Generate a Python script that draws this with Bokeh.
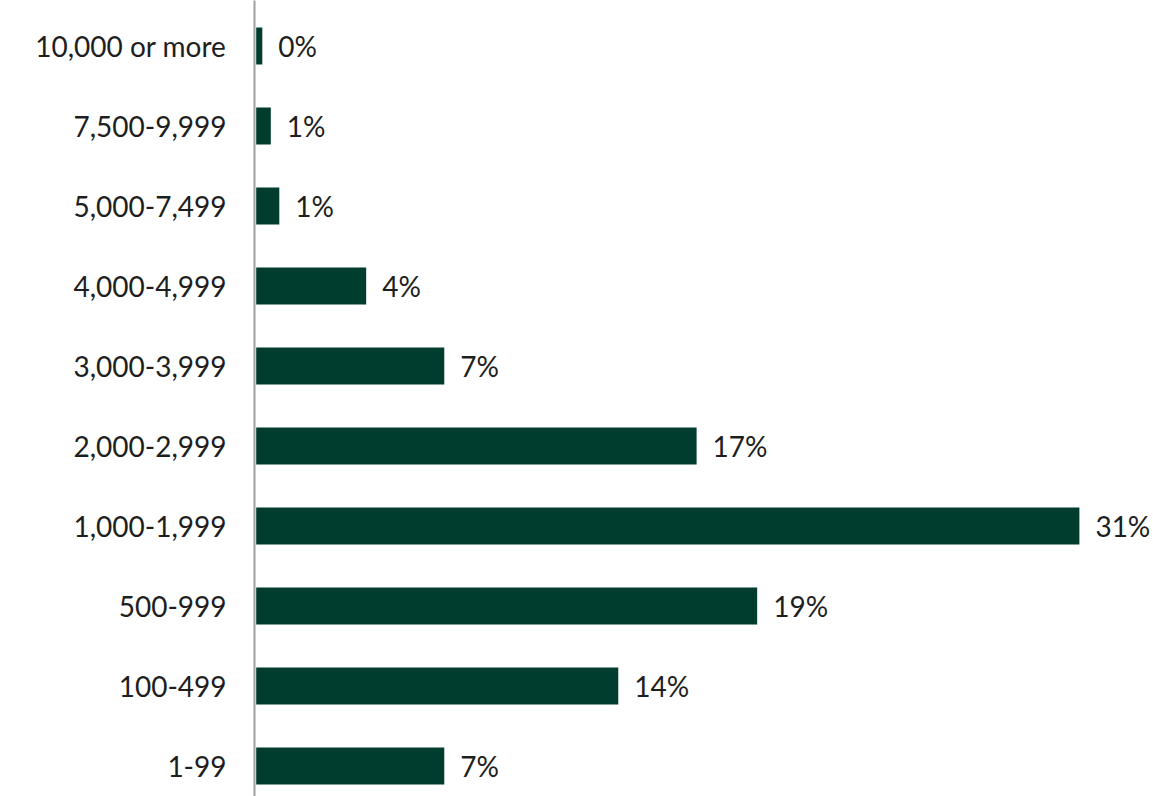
from bokeh.plotting import figure
from bokeh.models import ColumnDataSource, Range1d, FixedTicker
from bokeh.core.properties import value
from bokeh.embed import file_html
from bokeh.resources import INLINE

# Data (top to bottom as in the picture)
categories = ["10,000 or more", "7,500-9,999", "5,000-7,499", "4,000-4,999",
              "3,000-3,999", "2,000-2,999", "1,000-1,999", "500-999", "100-499", "1-99"]
shares = [0.23, 0.55, 0.87, 4.14, 7.08, 16.58, 30.99, 18.86, 13.63, 7.08]
share_labels = ["0%", "1%", "1%", "4%", "7%", "17%", "31%", "19%", "14%", "7%"]

n = len(categories)
ypos = [n - 1 - i for i in range(n)]

FONT = "Lato"
BAR = "#013D2E"
TXT = "#1E1E1E"

src = ColumnDataSource(dict(y=ypos, v=shares, lab=share_labels))

p = figure(width=1153, height=796, output_backend="svg", toolbar_location=None,
           x_range=Range1d(-0.064, 33.78), y_range=Range1d(-0.38125, 9.56875),
           min_border_left=254, min_border_right=0, min_border_top=0, min_border_bottom=0,
           outline_line_color=None)

p.hbar(y="y", right="v", left=0, height=0.4625, source=src, color=BAR, line_color=None)
p.text(x="v", y="y", text="lab", source=src, x_offset=16, text_baseline="middle",
       text_align="left", text_font=value(FONT), text_font_size="28px", text_color=TXT)

p.xaxis.visible = False
p.xgrid.visible = False
p.ygrid.visible = False

ax = p.yaxis[0]
ax.ticker = FixedTicker(ticks=ypos)
ax.major_label_overrides = {yv: c for yv, c in zip(ypos, categories)}
ax.major_tick_line_color = None
ax.minor_tick_line_color = None
ax.major_tick_out = 0
ax.major_tick_in = 0
ax.major_label_standoff = 28
ax.axis_line_color = "#A0A0A0"
ax.axis_line_width = 2
ax.major_label_text_font = FONT
ax.major_label_text_font_size = "28px"
ax.major_label_text_color = TXT

open("out.html", "w").write(file_html(p, INLINE))
